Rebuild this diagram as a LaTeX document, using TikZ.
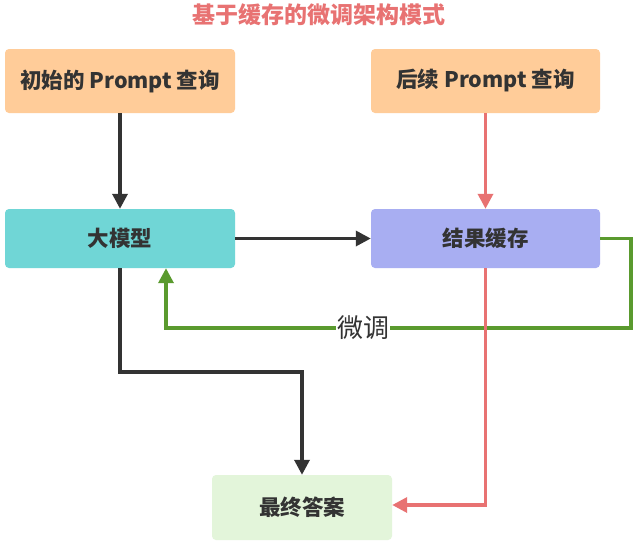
\documentclass[tikz,border=0pt]{standalone}
\usepackage{fontspec}
\setmainfont{Noto Sans CJK SC}
\usetikzlibrary{arrows.meta}
\definecolor{orangefill}{HTML}{FFCC99}
\definecolor{tealfill}{HTML}{70D6D6}
\definecolor{purplefill}{HTML}{A8AEF2}
\definecolor{greenfill}{HTML}{E3F5DA}
\definecolor{redline}{HTML}{E87272}
\definecolor{greenline}{HTML}{5A9A2E}
\definecolor{darkline}{HTML}{333333}
\tikzset{
  box/.style={rectangle, rounded corners=4pt, draw=none, text=darkline,
    font=\fontsize{21.5pt}{25pt}\selectfont\bfseries, inner sep=0pt},
  arr/.style={line width=3.4pt, -{Triangle[length=15pt,width=15pt]}},
}
\begin{document}
\begin{tikzpicture}[x=1pt,y=-1pt]
\useasboundingbox[fill=white] (0,0) rectangle (640,547);
\node[font=\fontsize{23pt}{27pt}\selectfont\bfseries, text=redline] (title) at (319,15) {基于缓存的微调架构模式};
\node[box, fill=orangefill, minimum width=230pt, minimum height=64pt] (q1) at (120,81) {初始的 Prompt 查询};
\node[box, fill=orangefill, minimum width=229pt, minimum height=64pt] (q2) at (485.5,81) {后续 Prompt 查询};
\node[box, fill=tealfill, minimum width=230pt, minimum height=59pt] (llm) at (120,238.5) {大模型};
\node[box, fill=purplefill, minimum width=229pt, minimum height=59pt] (cache) at (485.5,238.5) {结果缓存};
\node[box, fill=greenfill, minimum width=180pt, minimum height=65pt] (ans) at (302,507.5) {最终答案};
\coordinate (g1) at (631,238.5);
\coordinate (g2) at (631,328);
\coordinate (g3) at (166,328);
\coordinate (b1) at (120,372);
\coordinate (b2) at (302,372);
\coordinate (r1) at (485.5,505);
\draw[arr, darkline] (q1.south) -- (llm.north);
\draw[arr, redline] (q2.south) -- (cache.north);
\draw[arr, darkline] (llm.east) -- (cache.west);
\draw[arr, greenline] (cache.east) -- (g1) -- (g2) -- node[pos=0.576, fill=white, inner sep=1pt, text=darkline, font=\fontsize{26pt}{30pt}\selectfont] {微调} (g3) -- (llm.south -| g3);
\draw[arr, darkline] (llm.south) -- (b1) -- (b2) -- (ans.north);
\draw[arr, redline] (cache.south) -- (r1) -- (ans.east |- r1);
\end{tikzpicture}
\end{document}
